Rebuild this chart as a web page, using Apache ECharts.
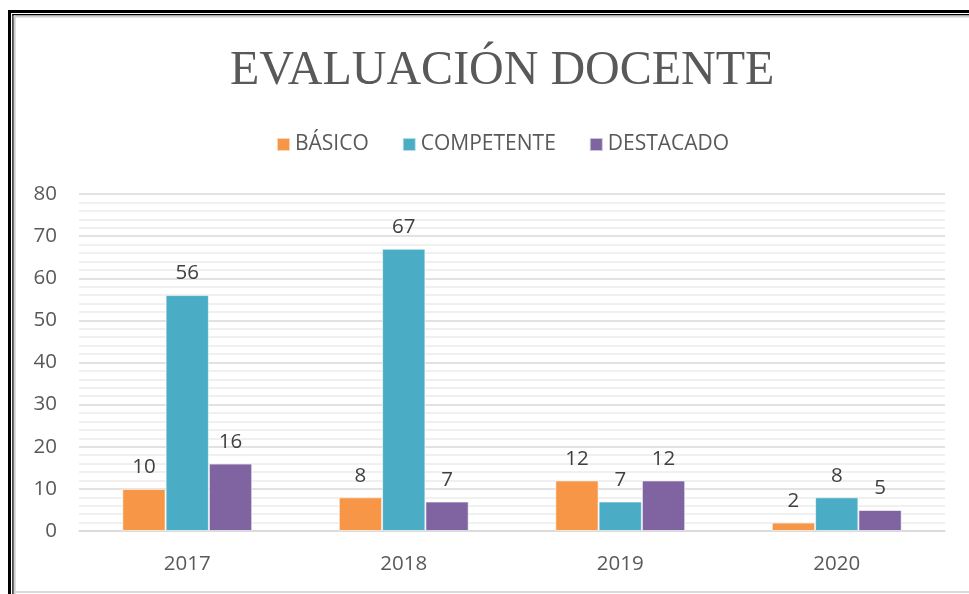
<!DOCTYPE html>
<html>
<head>
<meta charset="utf-8">
<script src="https://cdn.jsdelivr.net/npm/echarts@6/dist/echarts.min.js"></script>
<style>
  html, body { margin: 0; padding: 0; background: #fff; }
  #chart { width: 969px; height: 594px; }
</style>
</head>
<body>
<div id="chart"></div>
<script>
// Data
const years = ["2017", "2018", "2019", "2020"];
const basico = [10, 8, 12, 2];
const competente = [56, 67, 7, 8];
const destacado = [16, 7, 12, 5];

const seriesNames = ["BÁSICO", "COMPETENTE", "DESTACADO"];
const seriesData = [basico, competente, destacado];

// Excel-like palette
const colors = ["#F79646", "#4BACC6", "#8064A2"];
const textColor = "#595959";
const uiFont = "Open Sans";

const chart = echarts.init(document.getElementById("chart"));

// one bar series per level
const series = seriesData.map((d, i) => ({
    name: seriesNames[i],
    type: "bar",
    data: d,
    barGap: "0%",
    barCategoryGap: "40%",
    itemStyle: {
        color: colors[i],
        borderColor: "rgba(255,255,255,0.6)",
        borderWidth: 1
    },
    label: {
        show: true,
        position: "top",
        distance: 11,
        color: "#404040",
        fontFamily: uiFont,
        fontSize: 20.5
    }
}));

const option = {
    backgroundColor: "#fff",
    animation: false,
    color: colors,

    // TITLE (the original is centred on the full, wider chart area)
    title: {
        text: "EVALUACIÓN DOCENTE",
        left: 225,
        top: 42,
        textStyle: {
            fontFamily: "Liberation Serif",
            fontWeight: "normal",
            fontSize: 48,
            color: textColor
        }
    },

    // LEGEND
    legend: {
        top: 129,
        left: 271,
        itemWidth: 13,
        itemHeight: 13,
        itemGap: 33,
        icon: "rect",
        selectedMode: false,
        textStyle: {
            fontFamily: uiFont,
            fontSize: 21,
            color: textColor
        }
    },

    // GRID
    grid: {
        left: 79,
        right: 24,
        top: 194,
        bottom: 63
    },

    xAxis: {
        type: "category",
        data: years,
        axisTick: { show: false },
        axisLine: { lineStyle: { color: "#d9d9d9", width: 1.5 } },
        axisLabel: {
            margin: 23,
            fontFamily: uiFont,
            fontSize: 20.5,
            color: textColor
        }
    },

    yAxis: {
        type: "value",
        min: 0,
        max: 80,
        interval: 10,
        axisLine: { show: false },
        axisTick: { show: false },
        axisLabel: {
            margin: 22,
            fontFamily: uiFont,
            fontSize: 20.5,
            color: textColor
        },
        splitLine: { lineStyle: { color: "#d9d9d9", width: 1.5 } },
        minorTick: { show: false, splitNumber: 5 },
        minorSplitLine: { show: true, lineStyle: { color: "#ececec", width: 1.5 } }
    },

    // FRAME around the chart (double black line with a grey shadow)
    graphic: [
        { type: "rect", shape: { x: 8, y: 10, width: 961, height: 3 }, style: { fill: "#000" }, silent: true },
        { type: "rect", shape: { x: 8, y: 10, width: 3, height: 584 }, style: { fill: "#000" }, silent: true },
        { type: "rect", shape: { x: 12.3, y: 14, width: 957, height: 1.4 }, style: { fill: "#000" }, silent: true },
        { type: "rect", shape: { x: 12.3, y: 14, width: 1.4, height: 580 }, style: { fill: "#000" }, silent: true },
        { type: "rect", shape: { x: 13.7, y: 15.4, width: 956, height: 2 }, style: { fill: "#d0d0d0" }, silent: true },
        { type: "rect", shape: { x: 13.7, y: 15.4, width: 2, height: 579 }, style: { fill: "#d0d0d0" }, silent: true },
        { type: "rect", shape: { x: 15, y: 591, width: 954, height: 2 }, style: { fill: "#d9d9d9" }, silent: true }
    ],

    series: series
};

chart.setOption(option);
</script>
</body>
</html>
